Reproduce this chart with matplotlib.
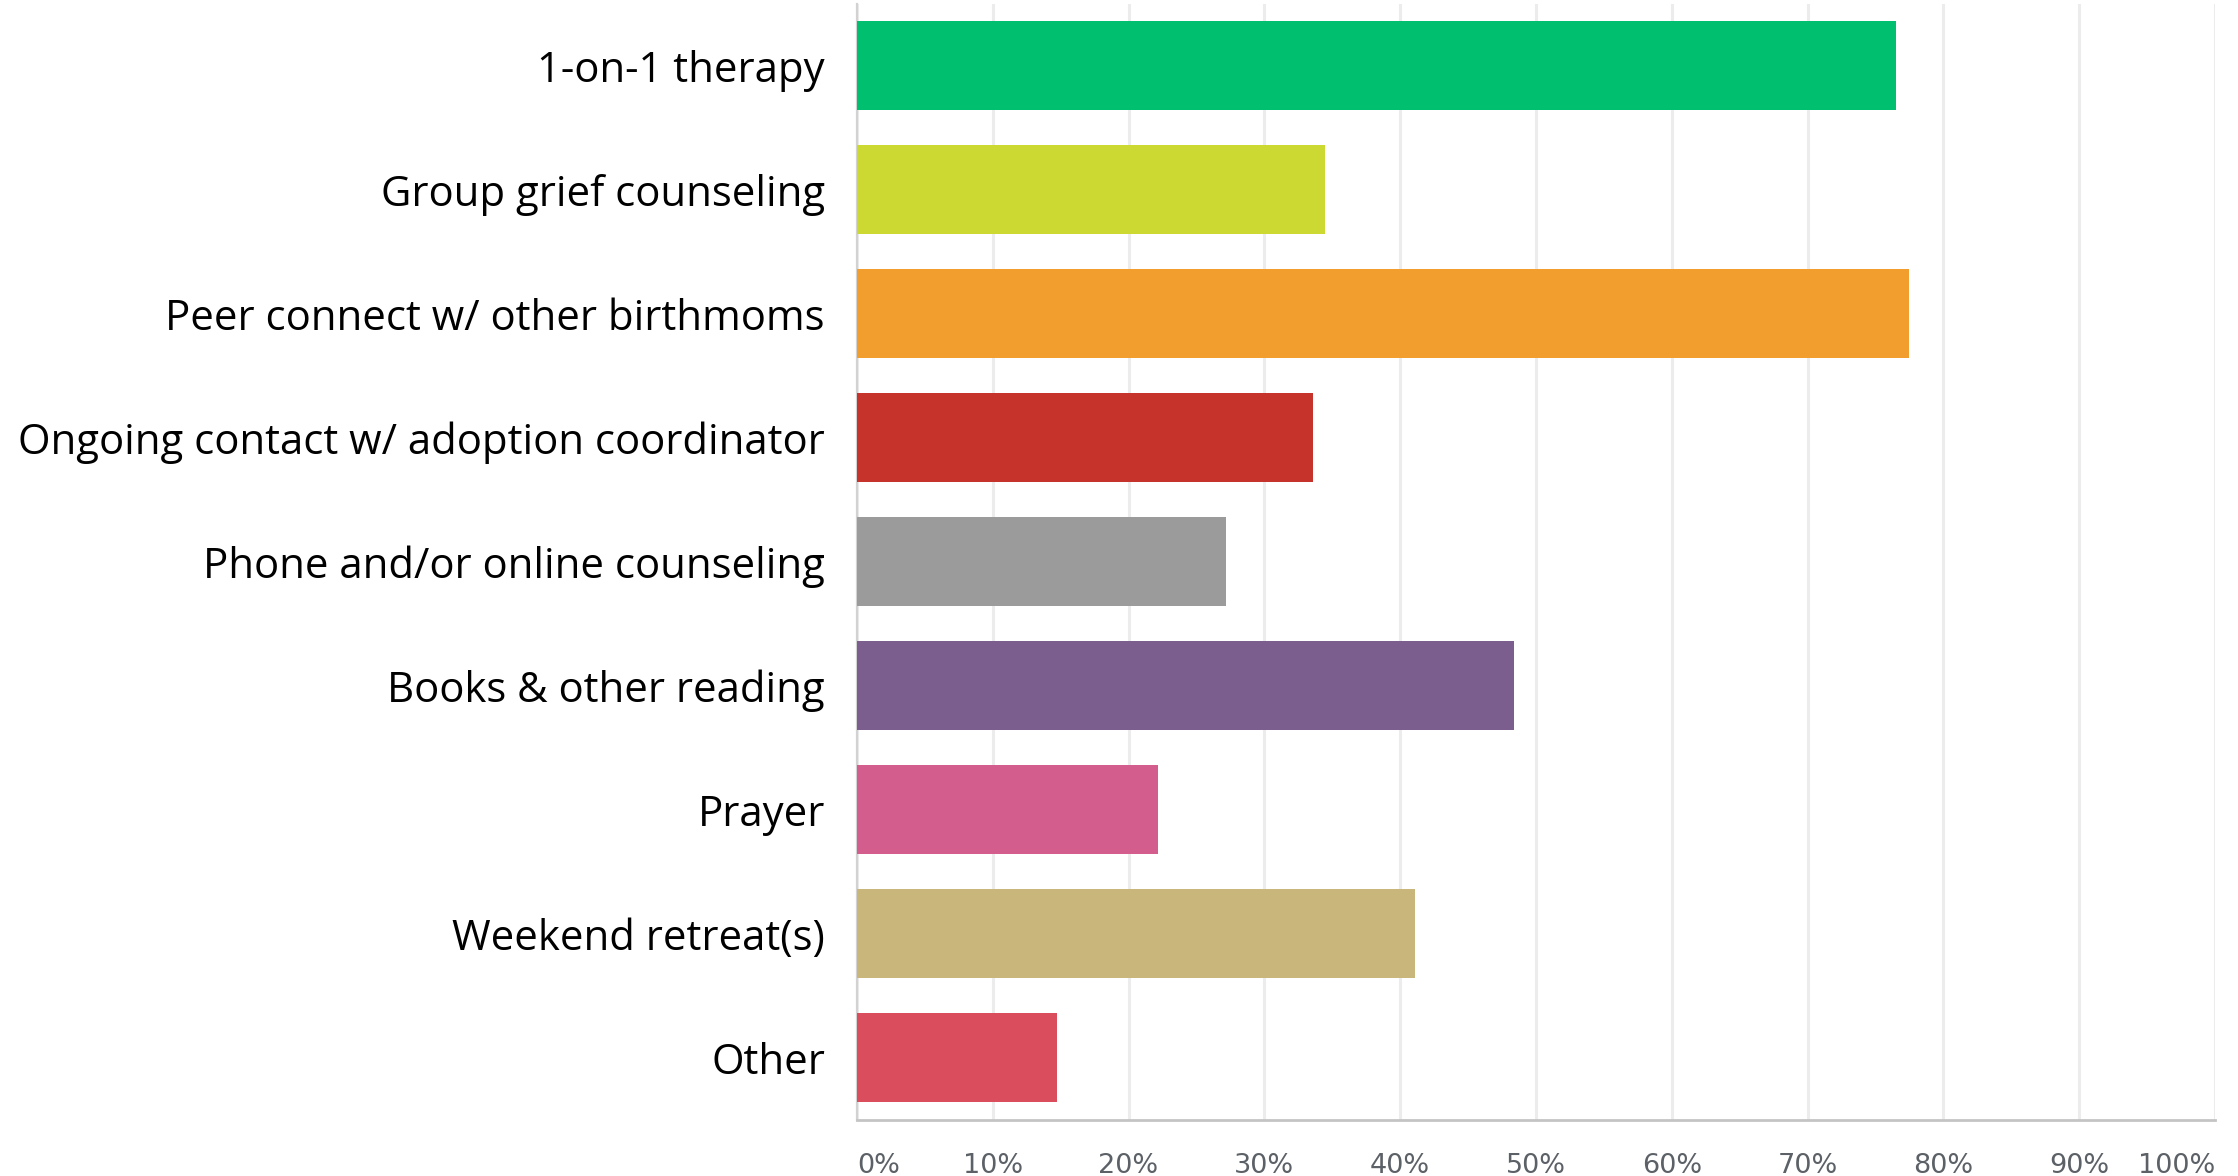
import matplotlib
matplotlib.use('Agg')
from matplotlib import pyplot as plt
from matplotlib.ticker import FixedLocator


categories = [
    '1-on-1 therapy',
    'Group grief counseling',
    'Peer connect w/ other birthmoms',
    'Ongoing contact w/ adoption coordinator',
    'Phone and/or online counseling',
    'Books & other reading',
    'Prayer',
    'Weekend retreat(s)',
    'Other',
]
percent = [76.5, 34.5, 77.5, 33.6, 27.2, 48.4, 22.2, 41.1, 14.7]
bar_colors = [
    '#00bf6f', '#ccd932', '#f19e2e', '#c6332b', '#9b9b9b',
    '#7c5e8e', '#d35e8d', '#c8b67a', '#da4d5d',
]
x_ticks = list(range(0, 101, 10))
x_tick_labels = [f'{t}%' for t in x_ticks]


def main():
    fig = plt.figure(figsize=(22.38, 11.76), dpi=100)
    ax = fig.add_axes([0.3829, 0.048, 0.9897 - 0.3829, 0.997 - 0.048])

    ypos = list(range(len(categories)))
    ax.barh(ypos, percent, height=0.72, color=bar_colors, zorder=3)

    ax.set_xlim(0, 100)
    ax.set_ylim(len(categories) - 0.5, -0.5)

    ax.set_yticks(ypos)
    ax.set_yticklabels(categories, fontsize=30.2, family='Open Sans',
                       color='black')
    ax.tick_params(axis='y', length=0, pad=23)

    ax.xaxis.set_major_locator(FixedLocator(x_ticks))
    ax.set_xticklabels(x_tick_labels, fontsize=19.5, family='DejaVu Sans',
                       color='#5c6167')
    ax.tick_params(axis='x', length=0, pad=24)
    labels = ax.get_xticklabels()
    labels[0].set_ha('left')
    labels[-1].set_ha('right')

    ax.grid(axis='x', color='#ececec', linewidth=2.2, zorder=0)
    ax.grid(axis='y', visible=False)

    for side in ('top', 'right'):
        ax.spines[side].set_visible(False)
    ax.spines['left'].set_color('#d2d2d2')
    ax.spines['left'].set_linewidth(1.6)
    ax.spines['bottom'].set_color('#c4c4c4')
    ax.spines['bottom'].set_linewidth(2)

    fig.savefig('out.png', dpi=100)


if __name__ == '__main__':
    main()
